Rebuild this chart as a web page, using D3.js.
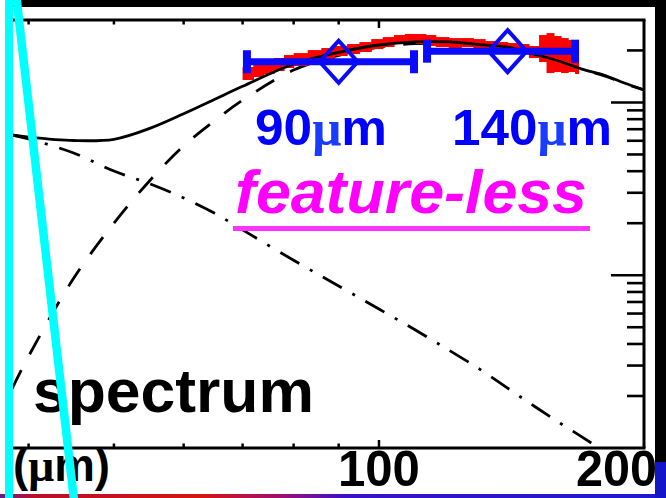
<!DOCTYPE html>
<html><head><meta charset="utf-8">
<script src="https://cdn.jsdelivr.net/npm/d3@7"></script>
<style>html,body{margin:0;padding:0;background:#fff;overflow:hidden}svg{display:block}</style>
</head><body>
<script>
// ---- data (wavelength in micron, flux in arbitrary log units) ----
const wavelengths = [38.3,40,45,50,55,60,65,70,80,90,100,110,120,130,140,150,160,170,180,190,200];
const totalFlux   = [64.8,63,60.2,61.2,71,86,104,124,167,195,215,224,224,216,209,190.6,173.7,156,144,129.5,118];
const warmFlux    = [2.2,3.4,9.6,20,35.6,56,78,103,154,187,209,219,220,213,207,189,172.5,155,143,129,118];
const hotFlux     = [64.8,61.5,51,40.1,33.7,28,22.9,18.3,12.2,8.66,6.37,4.82,3.69,2.87,2.22,1.75,1.41,1.16,0.96,0.8,0.67];

const specLam = [70,72,74,76,78,80,83,86,89,92,95,98,101,104,107,110,113,116,120,124,128,132,136,140,144,148,152,155,158,161,164,167,168.5];
const specHi  = [160.3,166.8,173.6,180.7,188.1,193.1,201,206.5,212.1,217.8,223.6,232.7,239,245.5,249,249,245.5,239,235.8,235.8,232.7,226.6,223.6,220.7,217.8,212.1,245.5,252,242.3,235.8,229.7,176,176];
const specLo  = [134.8,140.3,146,152,158.2,162.4,171.3,178.3,185.6,190.6,195.7,203.7,209.3,217.8,220.7,217.8,212.1,209.3,206.5,209.3,206.5,201,195.7,193.1,190.6,180.7,171.3,148,150,148,150,146,146];

const bandCenters = [90,140];
const bandLow     = [70.8,113.4];
const bandHigh    = [109.6,167];
const bandFlux    = [172,198];
const bandLabels  = ["90","140"];

const xTicks = [40,50,60,70,80,90,100];
const xMajor = [100];
const xTickLabels = [100,200];
const yTicks = [2,3,4,5,6,7,8,9,10,20,30,40,50,60,70,80,90,100,200];
const yMajor = [10,100];

// ---- setup ----
const W=666,H=498;
const L=12,R=644,T=20,B=448;
const FONT="'Liberation Sans', Arial, sans-serif";
const svg=d3.select("body").append("svg").attr("width",W).attr("height",H);
svg.append("rect").attr("width",W).attr("height",H).attr("fill","#fff");
const defs=svg.append("defs");
defs.append("clipPath").attr("id","pc").append("rect").attr("x",L).attr("y",T).attr("width",R-L).attr("height",B-T);
const g=defs.append("linearGradient").attr("id","bg").attr("x1",0).attr("x2",1).attr("y1",0).attr("y2",0);
[[0,"#6a1a8a"],[0.05,"#b8102a"],[0.3,"#d81410"],[0.42,"#a01070"],[0.52,"#3a10c8"],[1,"#1c1ad0"]]
  .forEach(s=>g.append("stop").attr("offset",s[0]).attr("stop-color",s[1]));

const x=d3.scaleLog().domain([38.3,200]).range([L,R]);
const y=d3.scaleLog().domain([1,300]).range([B,T]);

// ---- curves ----
const plot=svg.append("g").attr("clip-path","url(#pc)");
const line=(vals)=>d3.line().x((d,i)=>x(wavelengths[i])).y(d=>y(Math.max(d,0.3))).curve(d3.curveCatmullRom.alpha(0.5))(vals);
plot.append("path").attr("d",line(hotFlux)).attr("fill","none").attr("stroke","#000").attr("stroke-width",2.8).attr("stroke-dasharray","22,12,3,12");
plot.append("path").attr("d",line(warmFlux)).attr("fill","none").attr("stroke","#000").attr("stroke-width",2.8).attr("stroke-dasharray","21,18");

// red spectrum
plot.selectAll("rect.sp").data(specLam.slice(0,-1)).join("rect").attr("class","sp")
  .attr("x",(d,i)=>x(d)).attr("width",(d,i)=>x(specLam[i+1])-x(d)+0.6)
  .attr("y",(d,i)=>y(specHi[i])).attr("height",(d,i)=>y(specLo[i])-y(specHi[i]))
  .attr("fill","#ff0000");

plot.append("path").attr("d",line(totalFlux)).attr("fill","none").attr("stroke","#000").attr("stroke-width",2.8);

// blue photometry
const blue="#0a0aff";
const bands=plot.selectAll("g.band").data(bandCenters).join("g").attr("class","band");
bands.append("line").attr("x1",(d,i)=>x(bandLow[i])).attr("x2",(d,i)=>x(bandHigh[i]))
  .attr("y1",(d,i)=>y(bandFlux[i])).attr("y2",(d,i)=>y(bandFlux[i])).attr("stroke",blue).attr("stroke-width",7);
[bandLow,bandHigh].forEach(arr=>{
  bands.append("rect").attr("x",(d,i)=>x(arr[i])-4).attr("width",8)
    .attr("y",(d,i)=>y(bandFlux[i])-11.5).attr("height",23).attr("fill",blue);
});
bands.append("path").attr("d",(d,i)=>{const cx=x(d),cy=y(bandFlux[i]);return `M${cx},${cy-21}L${cx+19},${cy}L${cx},${cy+21}L${cx-19},${cy}Z`;})
  .attr("fill","none").attr("stroke",blue).attr("stroke-width",4);

// ---- axes frame ----
const ax=svg.append("g").attr("stroke","#000");
ax.append("line").attr("x1",L).attr("x2",R+1.5).attr("y1",T).attr("y2",T).attr("stroke-width",3);
ax.append("line").attr("x1",L).attr("x2",R+1.5).attr("y1",B).attr("y2",B).attr("stroke-width",3);
ax.append("line").attr("x1",R).attr("x2",R).attr("y1",T).attr("y2",B).attr("stroke-width",3);
const xlen=d=>xMajor.includes(d)?8:4.5;
ax.selectAll("line.tt").data(xTicks).join("line").attr("class","tt").attr("x1",d=>x(d)).attr("x2",d=>x(d)).attr("y1",T).attr("y2",d=>T+xlen(d)).attr("stroke-width",2.5);
ax.selectAll("line.bt").data(xTicks).join("line").attr("class","bt").attr("x1",d=>x(d)).attr("x2",d=>x(d)).attr("y1",B).attr("y2",d=>B-xlen(d)).attr("stroke-width",2.5);
ax.selectAll("line.yt").data(yTicks).join("line").attr("class","yt").attr("x1",R).attr("x2",d=>R-(yMajor.includes(d)?33:17)).attr("y1",d=>y(d)).attr("y2",d=>y(d)).attr("stroke-width",2.6);

// ---- texts ----
function label(str,x0,yb,size,fill,len,opts={}){
  const t=svg.append("text").attr("x",x0).attr("y",yb).attr("font-family",FONT).attr("font-weight","bold")
    .attr("font-size",size).attr("fill",fill).attr("textLength",len).attr("lengthAdjust","spacingAndGlyphs");
  if(opts.italic) t.attr("font-style","italic");
  if(opts.anchor) t.attr("text-anchor",opts.anchor);
  const parts=str.split("μ");
  t.append("tspan").text(parts[0]);
  if(parts.length>1){
    t.append("tspan").attr("font-family","'Liberation Serif', serif").attr("fill",opts.mu||fill).text("μ");
    t.append("tspan").text(parts[1]);
  }
  return t;
}
label(bandLabels[0]+"μm",255,145,50,"#0000ff",132,{mu:"#1a3cff"});
label(bandLabels[1]+"μm",452,145,50,"#0000ff",160,{mu:"#1a3cff"});
label("feature-less",235,213,62,"#ff00ff",352,{italic:true});
svg.append("rect").attr("x",233).attr("y",226).attr("width",357).attr("height",5).attr("fill","#ff33ff");
label("spectrum",33,412,62,"#000",281);

// bottom band + decorations
svg.append("rect").attr("x",0).attr("y",494).attr("width",W).attr("height",4).attr("fill","url(#bg)");
svg.append("rect").attr("x",655).attr("y",462).attr("width",11).attr("height",36).attr("fill","#1414c8");
svg.append("rect").attr("x",13).attr("y",0).attr("width",W-13).attr("height",7).attr("fill","#000");
svg.append("rect").attr("x",655).attr("y",0).attr("width",11).attr("height",462).attr("fill","#000");

// x tick labels
label(String(xTickLabels[0]),x(xTickLabels[0])-41,486,50,"#000",82);
label(String(xTickLabels[1]),x(xTickLabels[1])+13,486,50,"#000",81,{anchor:"end"});
label("(μm)",13,481,46,"#000",97);

// cyan lines
svg.append("rect").attr("x",5).attr("y",0).attr("width",8).attr("height",H).attr("fill","#00ffff");
svg.append("line").attr("x1",16.5).attr("y1",-2).attr("x2",74).attr("y2",H+2).attr("stroke","#00ffff").attr("stroke-width",8.5);
</script>
</body></html>
